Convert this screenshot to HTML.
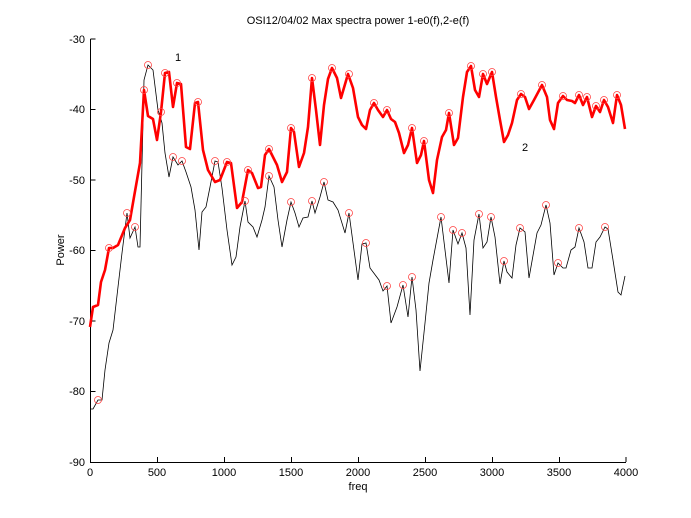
<!DOCTYPE html>
<html><head><style>body{margin:0;background:#fff}svg{display:block}text{font-family:"Liberation Sans",sans-serif;font-size:11px;fill:#000}</style></head>
<body>
<svg width="691" height="518" viewBox="0 0 691 518" xmlns="http://www.w3.org/2000/svg">
<rect width="691" height="518" fill="#fff"/>
<g stroke="#000" stroke-width="1" fill="none">
<path d="M90.5,39V462.5H626"/>
<path d="M90.5,39h5M90.5,109.5h5M90.5,180h5M90.5,250.5h5M90.5,321h5M90.5,391.5h5"/>
<path d="M157.5,462v-5M224.5,462v-5M291.5,462v-5M358.5,462v-5M425.5,462v-5M492.5,462v-5M559.5,462v-5M626,462v-5"/>
</g>
<g text-anchor="end">
<text x="85" y="43">-30</text><text x="85" y="113">-40</text><text x="85" y="184">-50</text><text x="85" y="254">-60</text><text x="85" y="325">-70</text><text x="85" y="395">-80</text><text x="85" y="466">-90</text>
</g>
<g text-anchor="middle">
<text x="90" y="476">0</text><text x="157" y="476">500</text><text x="224" y="476">1000</text><text x="291" y="476">1500</text><text x="358" y="476">2000</text><text x="425" y="476">2500</text><text x="492" y="476">3000</text><text x="559" y="476">3500</text><text x="626" y="476">4000</text>
<text x="358" y="490">freq</text>
<text x="358" y="24">OSI12/04/02 Max spectra power 1-e0(f),2-e(f)</text>
<text transform="translate(64,250) rotate(-90)">Power</text>
<text x="178" y="61" font-size="12">1</text>
<text x="525" y="151" font-size="12">2</text>
</g>
<polyline fill="none" stroke="#000" stroke-width="0.8" points="90,409 93,409 98,400 102,400 105,370 109,343 113,330 118,287 122,253 127,213 130,238 135,227 138,247 140,247 144,80 148,65 153,70 158,110 162,123 165,153 169,177 173,157 178,165 182,161 186,172 191,187 195,210 199,250 202,212 206,207 210,187 215,161 218,162 222,188 227,230 232,265 236,257 240,227 245,201 248,222 253,227 257,237 262,220 265,207 269,176 274,187 278,220 282,247 287,220 291,202 295,213 299,227 303,218 308,217 312,201 315,213 320,197 324,182 328,200 333,202 338,210 345,233 349,213 358,280 362,244 366,243 370,268 379,280 383,291 387,286 391,323 397,307 403,285 408,317 412,277 416,310 420,371 425,323 429,283 433,260 441,217 449,283 453,230 458,244 462,233 466,248 470,315 474,240 479,214 483,248 487,242 491,217 495,237 500,284 504,261 507,272 512,278 516,245 520,228 525,232 529,278 537,233 541,225 546,205 550,223 554,275 558,263 563,268 566,268 571,250 575,247 579,228 584,242 588,268 592,268 596,242 600,237 605,227 608,229 613,260 618,292 621,295 625,276"/>
<polyline fill="none" stroke="#f00" stroke-width="2.6" stroke-linejoin="round" points="90,327 93,307 98,305 101,282 105,270 109,248 113,248 118,245 125,228 130,220 134,197 137,180 140,163 144,90 148,116 153,119 157,140 161,112 165,73 169,72 173,107 177,83 181,84 186,147 190,149 195,103 198,102 203,150 208,170 215,182 220,180 227,162 231,163 237,208 242,202 248,170 252,173 258,188 261,187 265,155 269,149 277,165 282,182 287,172 291,128 294,132 299,167 304,153 308,127 312,78 316,110 320,145 324,105 328,79 332,68 337,78 341,98 348,74 353,88 358,117 362,125 366,129 370,110 374,103 378,110 383,117 387,110 391,119 395,122 399,133 404,153 408,145 412,128 417,163 421,155 424,141 429,180 433,193 437,160 442,137 446,130 449,113 454,145 458,138 463,97 467,72 471,66 475,90 479,97 483,74 487,84 492,72 496,97 500,120 504,142 508,135 512,123 517,100 521,94 525,97 529,109 534,100 542,85 547,97 550,120 554,129 558,103 563,96 567,100 572,101 575,103 579,95 583,105 587,97 592,117 596,106 600,112 604,100 608,107 613,123 617,95 621,105 625,129"/>
<g fill="none" stroke="#f44" stroke-width="0.8">
<circle cx="98" cy="400" r="3.5"/><circle cx="127" cy="213" r="3.5"/><circle cx="135" cy="227" r="3.5"/><circle cx="148" cy="65" r="3.5"/><circle cx="161" cy="112" r="3.5"/><circle cx="173" cy="157" r="3.5"/><circle cx="182" cy="161" r="3.5"/><circle cx="215" cy="161" r="3.5"/><circle cx="245" cy="201" r="3.5"/><circle cx="269" cy="176" r="3.5"/><circle cx="291" cy="202" r="3.5"/><circle cx="312" cy="201" r="3.5"/><circle cx="324" cy="182" r="3.5"/><circle cx="349" cy="213" r="3.5"/><circle cx="366" cy="243" r="3.5"/><circle cx="387" cy="286" r="3.5"/><circle cx="403" cy="285" r="3.5"/><circle cx="412" cy="277" r="3.5"/><circle cx="441" cy="217" r="3.5"/><circle cx="453" cy="230" r="3.5"/><circle cx="462" cy="233" r="3.5"/><circle cx="479" cy="214" r="3.5"/><circle cx="491" cy="217" r="3.5"/><circle cx="504" cy="261" r="3.5"/><circle cx="520" cy="228" r="3.5"/><circle cx="546" cy="205" r="3.5"/><circle cx="558" cy="263" r="3.5"/><circle cx="579" cy="228" r="3.5"/><circle cx="605" cy="227" r="3.5"/>
<circle cx="109" cy="248" r="3.5"/><circle cx="144" cy="90" r="3.5"/><circle cx="165" cy="73" r="3.5"/><circle cx="177" cy="83" r="3.5"/><circle cx="198" cy="102" r="3.5"/><circle cx="227" cy="162" r="3.5"/><circle cx="248" cy="170" r="3.5"/><circle cx="269" cy="149" r="3.5"/><circle cx="291" cy="128" r="3.5"/><circle cx="312" cy="78" r="3.5"/><circle cx="332" cy="68" r="3.5"/><circle cx="349" cy="74" r="3.5"/><circle cx="374" cy="103" r="3.5"/><circle cx="387" cy="110" r="3.5"/><circle cx="412" cy="128" r="3.5"/><circle cx="424" cy="141" r="3.5"/><circle cx="449" cy="113" r="3.5"/><circle cx="471" cy="66" r="3.5"/><circle cx="483" cy="74" r="3.5"/><circle cx="492" cy="72" r="3.5"/><circle cx="521" cy="94" r="3.5"/><circle cx="542" cy="85" r="3.5"/><circle cx="563" cy="96" r="3.5"/><circle cx="579" cy="95" r="3.5"/><circle cx="587" cy="97" r="3.5"/><circle cx="596" cy="106" r="3.5"/><circle cx="604" cy="100" r="3.5"/><circle cx="617" cy="95" r="3.5"/>
</g>
</svg>
</body></html>
